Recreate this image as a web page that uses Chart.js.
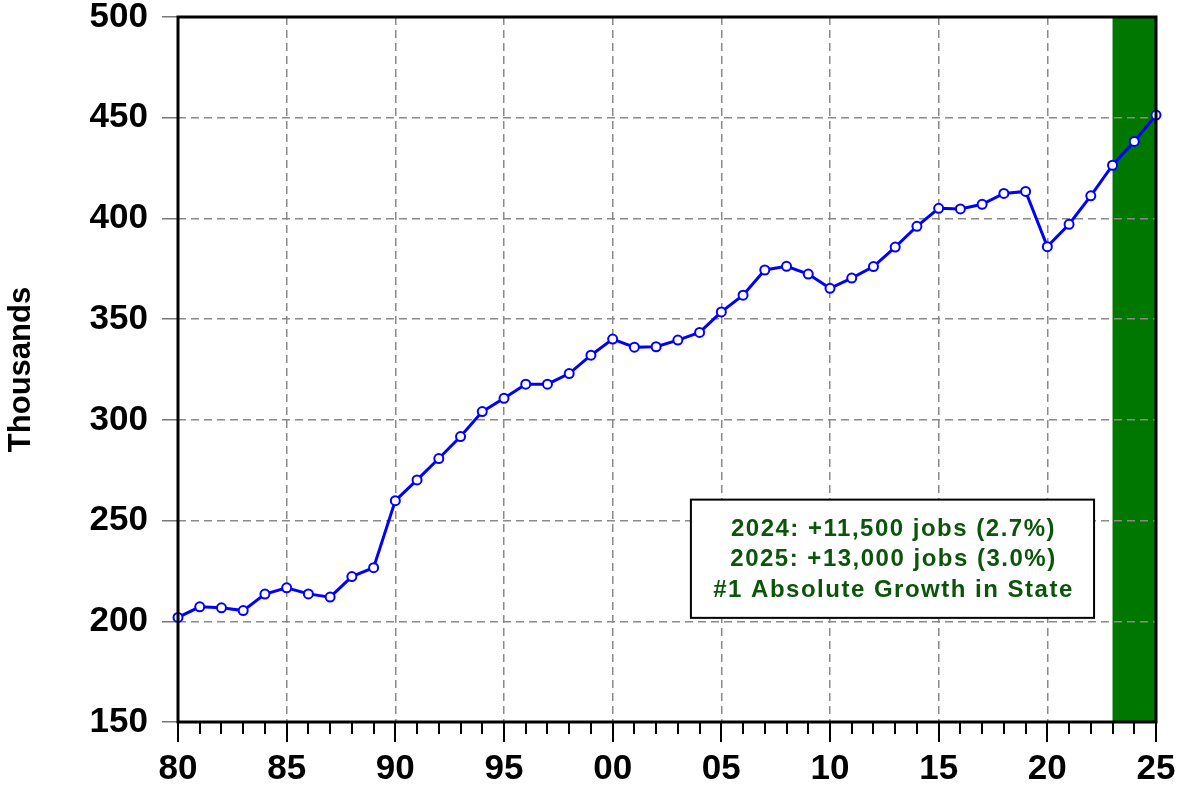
<!DOCTYPE html>
<html>
<head>
<meta charset="utf-8">
<script src="https://cdn.jsdelivr.net/npm/chart.js@4/dist/chart.umd.min.js"></script>
<style>
  html, body { margin: 0; padding: 0; background: #fff; }
  #wrap { width: 1180px; height: 786px; }
</style>
</head>
<body>
<div id="wrap"><canvas id="jobsChart" width="1180" height="786"></canvas></div>
<script>
const years = [
    1980, 1981, 1982, 1983, 1984, 1985, 1986, 1987, 1988, 1989,
    1990, 1991, 1992, 1993, 1994, 1995, 1996, 1997, 1998, 1999,
    2000, 2001, 2002, 2003, 2004, 2005, 2006, 2007, 2008, 2009,
    2010, 2011, 2012, 2013, 2014, 2015, 2016, 2017, 2018, 2019,
    2020, 2021, 2022, 2023, 2024, 2025,
];
// employment, thousands
const jobs = [
    201.9, 207.2, 206.7, 205.3, 213.5, 216.6, 213.6, 212.0, 222.2, 226.6,
    259.9, 270.2, 280.8, 291.7, 304.1, 310.7, 317.7, 317.7, 323.0, 332.1,
    340.1, 336.1, 336.3, 339.6, 343.4, 353.6, 361.9, 374.4, 376.2, 372.4,
    365.3, 370.4, 376.1, 385.8, 396.1, 405.0, 404.7, 407.0, 412.4, 413.4,
    386.0, 397.1, 411.2, 426.4, 438.2, 451.3,
];
const forecastSpan = [2023, 2025];
const yTicks = [150, 200, 250, 300, 350, 400, 450, 500];
const noteLines = [
    '2024: +11,500 jobs (2.7%)',
    '2025: +13,000 jobs (3.0%)',
    '#1 Absolute Growth in State',
];
// note box corners in data units (x: year, y: thousands)
const noteBox = { x0: 2003.6, x1: 2022.15, y0: 260.4, y1: 201.7 };

const FONT = '"Liberation Sans", Arial, sans-serif';

const decor = {
    id: 'decor',
    beforeDraw(chart) {
        // shaded forecast years, under the grid
        const { ctx, chartArea: a, scales: { x } } = chart;
        const x0 = x.getPixelForValue(forecastSpan[0]);
        const x1 = x.getPixelForValue(forecastSpan[1]);
        ctx.save();
        ctx.fillStyle = '#007800';
        ctx.fillRect(x0, a.top, x1 - x0, a.bottom - a.top);
        ctx.restore();
    },
    afterDraw(chart) {
        const { ctx, chartArea: a, scales: { x, y } } = chart;
        ctx.save();

        // year ticks under the axis
        ctx.strokeStyle = '#000';
        ctx.lineWidth = 2;
        for (const yr of years) {
            const px = Math.round(x.getPixelForValue(yr));
            const len = yr % 5 === 0 ? 20 : 12;
            ctx.beginPath();
            ctx.moveTo(px, a.bottom);
            ctx.lineTo(px, a.bottom + len);
            ctx.stroke();
        }

        // frame
        ctx.lineWidth = 3;
        ctx.strokeRect(a.left, a.top, a.right - a.left, a.bottom - a.top);

        // note box
        const bx0 = x.getPixelForValue(noteBox.x0), bx1 = x.getPixelForValue(noteBox.x1);
        const by0 = y.getPixelForValue(noteBox.y0), by1 = y.getPixelForValue(noteBox.y1);
        ctx.fillStyle = '#fff';
        ctx.fillRect(bx0, by0, bx1 - bx0, by1 - by0);
        ctx.lineWidth = 2;
        ctx.strokeRect(bx0, by0, bx1 - bx0, by1 - by0);
        ctx.fillStyle = '#0b550b';
        ctx.font = 'bold 24px ' + FONT;
        ctx.letterSpacing = '1.5px';
        ctx.textAlign = 'center';
        ctx.textBaseline = 'middle';
        const cx = (bx0 + bx1) / 2 + 1;
        const cy = (by0 + by1) / 2 + 1;
        noteLines.forEach((t, i) => ctx.fillText(t, cx, cy + (i - 1) * 30.5));

        ctx.restore();
    },
};

new Chart(document.getElementById('jobsChart'), {
    type: 'line',
    data: {
        datasets: [{
            data: years.map((yr, i) => ({ x: yr, y: jobs[i] })),
            borderColor: '#0000ff',
            borderWidth: 3,
            pointRadius: 4.5,
            pointBorderWidth: 2,
            pointBackgroundColor: '#fff',
            pointBorderColor: '#0000ff',
            tension: 0,
            clip: false,
        }],
    },
    options: {
        responsive: false,
        animation: false,
        events: [],
        layout: { padding: { top: 17, right: 24, left: 0, bottom: 0 } },
        plugins: { legend: { display: false }, tooltip: { enabled: false } },
        scales: {
            x: {
                type: 'linear',
                min: 1980,
                max: 2025,
                afterFit(s) {
                    s.height = 64;
                    s.paddingLeft = 0;
                    s.paddingRight = 0;
                },
                afterBuildTicks(s) {
                    s.ticks = years.filter(v => v % 5 === 0).map(v => ({ value: v }));
                },
                ticks: {
                    color: '#000',
                    font: { family: FONT, size: 35, weight: 'bold', lineHeight: 1 },
                    padding: 30,
                    maxRotation: 0,
                    callback: v => String(v % 100).padStart(2, '0'),
                },
                grid: { color: '#8a8a8a', lineWidth: 1.5, drawTicks: false },
                border: { display: false, dash: [8, 5] },
            },
            y: {
                min: 150,
                max: 500,
                afterFit(s) {
                    s.width = 178;
                    s.paddingTop = 0;
                    s.paddingBottom = 0;
                },
                afterBuildTicks(s) { s.ticks = yTicks.map(v => ({ value: v })); },
                ticks: {
                    color: '#000',
                    font: { family: FONT, size: 35, weight: 'bold', lineHeight: 1 },
                    padding: 14,
                },
                grid: {
                    color: '#8a8a8a', lineWidth: 1.5, tickLength: 16,
                    tickColor: '#777', tickBorderDash: [],
                },
                border: { display: false, dash: [8, 5] },
                title: {
                    display: true,
                    text: 'Thousands',
                    color: '#000',
                    font: { family: FONT, size: 31, weight: 'bold', lineHeight: 1.2 },
                    padding: { top: 3, bottom: 0 },
                },
            },
        },
    },
    plugins: [decor],
});
</script>
</body>
</html>
